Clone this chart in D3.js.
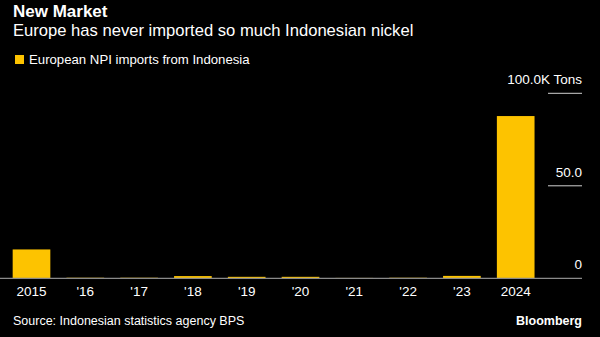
<!DOCTYPE html>
<html>
<head>
<meta charset="utf-8">
<script src="https://cdn.jsdelivr.net/npm/d3@7/dist/d3.min.js"></script>
<style>
  html, body { margin: 0; padding: 0; background: #000; }
  svg { display: block; }
  text { font-family: "Liberation Sans", Arial, sans-serif; fill: #fff; }
</style>
</head>
<body>
<svg id="chart" width="600" height="337"></svg>
<script>
// European NPI imports from Indonesia, thousand tons per year
const years = ["2015", "2016", "2017", "2018", "2019", "2020", "2021", "2022", "2023", "2024"];
const yearLabels = ["2015", "'16", "'17", "'18", "'19", "'20", "'21", "'22", "'23", "2024"];
const imports = [15.6, 0.3, 0.3, 1.2, 0.8, 0.8, 0.2, 0.3, 1.3, 87.7];
const yTicks = [0, 50, 100];
const yTickLabels = ["0", "50.0", "100.0K Tons"];

const svg = d3.select("#chart");
const W = 600, H = 337;
const yellow = "#fdc300";

svg.append("rect").attr("width", W).attr("height", H).attr("fill", "#000");

// Titles
svg.append("text").attr("x", 13).attr("y", 17)
  .attr("font-size", 17).attr("font-weight", "bold").text("New Market");
svg.append("text").attr("x", 13).attr("y", 36)
  .attr("font-size", 16.6).text("Europe has never imported so much Indonesian nickel");

// Legend
svg.append("rect").attr("x", 15).attr("y", 55).attr("width", 9).attr("height", 9).attr("fill", yellow);
svg.append("text").attr("x", 29).attr("y", 63.5)
  .attr("font-size", 13.2).text("European NPI imports from Indonesia");

// Scales
const x = d3.scaleBand().domain(years).range([4.6, 542.6]).paddingInner(0.3).paddingOuter(0.15);
const y = d3.scaleLinear().domain([0, 100]).range([278.3, 93.3]);

// Gridlines with right-side labels
const grid = svg.append("g");
grid.selectAll("line").data(yTicks.filter(d => d > 0)).join("line")
  .attr("x1", 548).attr("x2", 582)
  .attr("y1", d => y(d)).attr("y2", d => y(d))
  .attr("stroke", "#d0d0d0").attr("stroke-width", 1);
grid.selectAll("text").data(yTicks).join("text")
  .attr("x", 582).attr("y", d => y(d) - 9)
  .attr("text-anchor", "end").attr("font-size", 13.5)
  .text((d, i) => yTickLabels[i]);

// Bars
svg.append("g").selectAll("rect").data(imports).join("rect")
  .attr("x", (d, i) => x(years[i]))
  .attr("width", x.bandwidth())
  .attr("y", d => y(d))
  .attr("height", d => y(0) - y(d))
  .attr("fill", yellow);

// Baseline
svg.append("line").attr("x1", 0).attr("x2", 582)
  .attr("y1", y(0)).attr("y2", y(0))
  .attr("stroke", "#8a8a8a").attr("stroke-width", 1.2);

// X axis labels
const xAxis = d3.axisBottom(x).tickSize(0).tickPadding(0)
  .tickFormat((d, i) => yearLabels[i]);
const gx = svg.append("g").attr("transform", `translate(0,${y(0)})`).call(xAxis);
gx.select(".domain").remove();
gx.selectAll("text").attr("font-size", 13.5).attr("fill", "#fff")
  .attr("dy", null).attr("y", 17.5)
  .style("font-family", '"Liberation Sans", Arial, sans-serif');

// Footer
svg.append("text").attr("x", 13).attr("y", 325)
  .attr("font-size", 12.5).text("Source: Indonesian statistics agency BPS");
svg.append("text").attr("x", 582).attr("y", 325)
  .attr("text-anchor", "end").attr("font-size", 12.5).attr("font-weight", "bold").text("Bloomberg");
</script>
</body>
</html>
